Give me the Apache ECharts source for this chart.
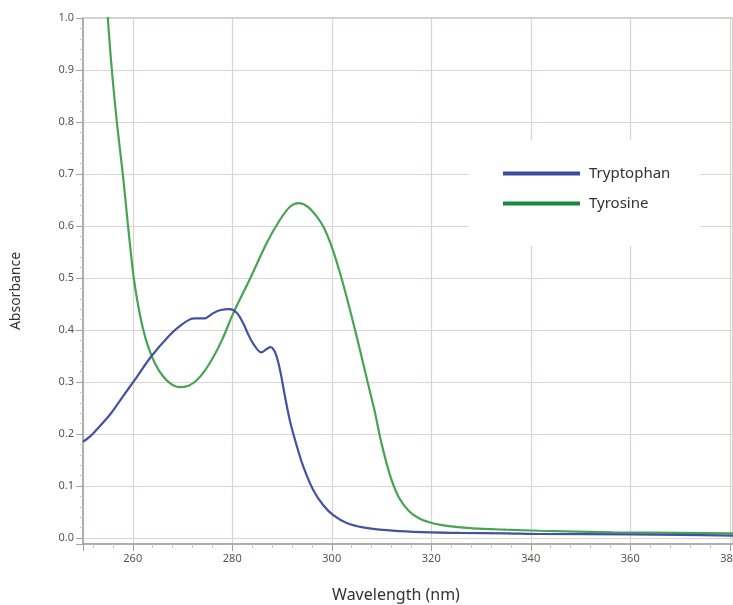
<!DOCTYPE html>
<html>
<head>
<meta charset="utf-8">
<script src="https://cdn.jsdelivr.net/npm/echarts@6/dist/echarts.min.js"></script>
<style>html,body{margin:0;padding:0;background:#fff;}#c{width:733px;height:605px;}</style>
</head>
<body>
<div id="c"></div>
<script>
var seriesNames = ['Tryptophan', 'Tyrosine'];
var xAxisTitle = 'Wavelength (nm)';
var yAxisTitle = 'Absorbance';
var xTickLabels = [260, 280, 300, 320, 340, 360, 380];
var yTickLabels = [0.0, 0.1, 0.2, 0.3, 0.4, 0.5, 0.6, 0.7, 0.8, 0.9, 1.0];

var tryptophanWl = [250.0, 251.5, 252.7, 255.4, 258.0, 260.4, 263.7, 267.4, 269.5, 271.4, 272.5, 274.5, 276.1, 277.5, 279.5, 280.9, 282.2, 283.2, 284.2, 285.8, 287.0, 287.7, 288.7, 289.6, 290.6, 291.6, 293.0, 294.3, 296.3, 298.3, 300.3, 303.0, 306.3, 311.0, 316.4, 325.8, 335.0, 341.9, 360.0, 370.0, 380.65];
var tryptophanAbs = [0.185, 0.196, 0.208, 0.237, 0.272, 0.304, 0.349, 0.390, 0.408, 0.420, 0.4225, 0.4225, 0.432, 0.438, 0.440, 0.433, 0.413, 0.392, 0.374, 0.357, 0.364, 0.367, 0.355, 0.323, 0.272, 0.225, 0.176, 0.137, 0.092, 0.063, 0.044, 0.029, 0.0205, 0.015, 0.012, 0.010, 0.009, 0.0077, 0.007, 0.006, 0.0045];

var tyrosineWl = [254.6, 255.0, 255.8, 256.8, 258.0, 259.0, 259.6, 260.2, 261.0, 262.0, 263.2, 264.5, 266.0, 267.6, 269.4, 271.2, 272.8, 274.5, 276.2, 278.0, 280.2, 283.6, 286.9, 289.6, 291.6, 293.3, 295.2, 297.0, 298.4, 300.0, 301.5, 303.0, 305.0, 307.0, 308.6, 310.0, 311.8, 313.5, 315.5, 317.7, 320.5, 323.5, 328.4, 335.0, 341.9, 356.5, 370.0, 380.65];
var tyrosineAbs = [1.08, 1.00, 0.90, 0.80, 0.70, 0.605, 0.55, 0.50, 0.452, 0.405, 0.365, 0.335, 0.312, 0.297, 0.290, 0.293, 0.303, 0.322, 0.348, 0.382, 0.432, 0.499, 0.567, 0.612, 0.637, 0.644, 0.637, 0.618, 0.597, 0.560, 0.515, 0.463, 0.388, 0.308, 0.245, 0.182, 0.118, 0.078, 0.052, 0.037, 0.028, 0.023, 0.0186, 0.016, 0.014, 0.011, 0.010, 0.009];

function pairs(xs, ys) { return xs.map(function (x, i) { return [x, ys[i]]; }); }

var gridColor = '#dbd2d2';
var axisColor = '#a9a0a0';
var labelColor = '#5a5252';

var chart = echarts.init(document.getElementById('c'), null, {renderer: 'canvas'});
chart.setOption({
  backgroundColor: '#ffffff',
  animation: false,
  grid: {left: 83, right: 0, top: 18, bottom: 61, show: true, borderColor: axisColor, borderWidth: 1, backgroundColor: 'transparent', containLabel: false, outerBoundsMode: 'none'},
  xAxis: {
    type: 'value', min: 250, max: 380.65, splitNumber: 6,
    axisLine: {show: true, onZero: false, lineStyle: {color: axisColor, width: 1.5}},
    axisTick: {show: true, length: 7, lineStyle: {color: axisColor}},
    minorTick: {show: true, splitNumber: 5, length: 4, lineStyle: {color: '#c9c0c0'}},
    splitLine: {show: true, lineStyle: {color: gridColor, width: 1.2}},
    axisLabel: {
      color: labelColor, fontSize: 11, fontFamily: 'Noto Sans', margin: 9,
      showMinLabel: true, showMaxLabel: true, hideOverlap: false,
      formatter: function (v) { return xTickLabels.indexOf(Math.round(v)) >= 0 && Math.abs(v - Math.round(v)) < 1e-6 ? String(Math.round(v)) : ''; }
    }
  },
  yAxis: {
    type: 'value', min: -0.0115, max: 1.0, splitNumber: 10,
    axisLine: {show: true, lineStyle: {color: axisColor, width: 1.5}},
    axisTick: {show: true, length: 7, lineStyle: {color: axisColor}},
    minorTick: {show: true, splitNumber: 5, length: 3, lineStyle: {color: '#d0c8c8'}},
    splitLine: {show: true, lineStyle: {color: gridColor, width: 1.2}},
    axisLabel: {
      color: labelColor, fontSize: 11, fontFamily: 'Noto Sans', margin: 9,
      formatter: function (v) {
        for (var i = 0; i < yTickLabels.length; i++) {
          if (Math.abs(v - yTickLabels[i]) < 1e-6) return yTickLabels[i].toFixed(1);
        }
        return '';
      }
    }
  },
  legend: {
    orient: 'vertical', left: 468, top: 140,
    padding: [26, 30, 35, 35], itemGap: 15,
    backgroundColor: '#ffffff',
    itemWidth: 77, itemHeight: 4, icon: 'rect',
    textStyle: {color: '#333', fontSize: 15, fontFamily: 'Noto Sans', padding: [0, 0, 0, 4]},
    data: [
      {name: seriesNames[0], itemStyle: {color: '#3a4d9a'}},
      {name: seriesNames[1], itemStyle: {color: '#168a3e'}}
    ]
  },
  graphic: [
    {type: 'text', rotation: Math.PI / 2, position: [16, 291],
     style: {text: yAxisTitle, fill: '#333', font: '14px "Noto Sans"', textAlign: 'center', textVerticalAlign: 'middle'}},
    {type: 'text', position: [396, 595],
     style: {text: xAxisTitle, fill: '#333', font: '16px "Noto Sans"', textAlign: 'center', textVerticalAlign: 'middle'}}
  ],
  series: [
    {name: seriesNames[0], type: 'line', data: pairs(tryptophanWl, tryptophanAbs), showSymbol: false, smooth: 0.3, clip: true,
     lineStyle: {color: '#4352a2', width: 2.2}, itemStyle: {color: '#4352a2'}, z: 3},
    {name: seriesNames[1], type: 'line', data: pairs(tyrosineWl, tyrosineAbs), showSymbol: false, smooth: 0.3, clip: true,
     lineStyle: {color: '#45a552', width: 2.2}, itemStyle: {color: '#45a552'}, z: 2}
  ]
});
</script>
</body>
</html>
